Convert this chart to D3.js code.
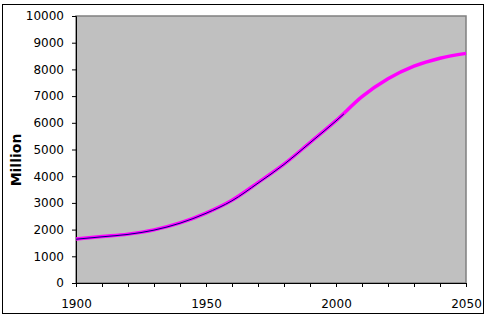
<!DOCTYPE html>
<html>
<head>
<meta charset="utf-8">
<script src="https://cdn.jsdelivr.net/npm/d3@7"></script>
<style>
  html, body { margin: 0; padding: 0; background: #fff; }
  svg { display: block; }
  text { font-family: "DejaVu Sans", Verdana, sans-serif; }
</style>
</head>
<body>
<svg id="chart" width="487" height="318"></svg>
<script>
// Data (millions)
const projYears  = [1900, 1910, 1920, 1930, 1940, 1950, 1960, 1970, 1980, 1990, 2000, 2010, 2020, 2030, 2040, 2050];
const projValues = [1650, 1740, 1830, 1990, 2250, 2620, 3100, 3760, 4450, 5260, 6080, 6980, 7650, 8120, 8420, 8600];
const histYears  = [1900, 1910, 1920, 1930, 1940, 1950, 1960, 1970, 1980, 1990, 2000, 2003];
const histValues = [1640, 1730, 1820, 1980, 2240, 2610, 3080, 3740, 4440, 5250, 6070, 6330];
const yTicks = [0, 1000, 2000, 3000, 4000, 5000, 6000, 7000, 8000, 9000, 10000];
const xLabelTicks = [1900, 1950, 2000, 2050];
const xMinorTicks = d3.range(1900, 2051, 10);
const yTitle = "Million";

(function () {
const svg = d3.select("#chart");
const mLeft = 76, mRight = 466, mTop = 16, mBottom = 283;
const fontFam = "'DejaVu Sans', Verdana, sans-serif";

const x = d3.scaleLinear().domain([1900, 2050]).range([mLeft, mRight]);
const y = d3.scaleLinear().domain([0, 10000]).range([mBottom, mTop]);

// outer frame
svg.append("rect").attr("x", 2.5).attr("y", 4.5).attr("width", 481).attr("height", 309)
  .attr("fill", "#fff").attr("stroke", "#000").attr("stroke-width", 1);

// plot area
svg.append("rect").attr("x", mLeft).attr("y", mTop).attr("width", mRight - mLeft).attr("height", mBottom - mTop)
  .attr("fill", "#c0c0c0").attr("stroke", "#808080").attr("stroke-width", 1.5);

// axes
const yAxis = d3.axisLeft(y).tickValues(yTicks).tickSize(4).tickPadding(8).tickFormat(d3.format("d"));
const gy = svg.append("g").attr("transform", `translate(${mLeft},0)`).call(yAxis);
gy.select(".domain").attr("stroke", "#000");
gy.selectAll(".tick line").attr("stroke", "#000");
gy.selectAll("text").attr("font-size", 12).attr("fill", "#000").attr("font-family", fontFam);

const xAxis = d3.axisBottom(x).tickValues(xMinorTicks).tickSize(4).tickPadding(12)
  .tickFormat(d => xLabelTicks.includes(d) ? String(d) : "");
const gx = svg.append("g").attr("transform", `translate(0,${mBottom})`).call(xAxis);
gx.select(".domain").attr("stroke", "#000");
gx.selectAll(".tick line").attr("stroke", "#000");
gx.selectAll("text").attr("font-size", 12).attr("fill", "#000").attr("font-family", fontFam);

// y title
svg.append("text").attr("transform", "translate(21,160) rotate(-90)")
  .attr("text-anchor", "middle").attr("font-size", 14).attr("font-weight", "bold")
  .attr("font-family", fontFam)
  .text(yTitle);

// lines
const line = d3.line().x(d => x(d[0])).y(d => y(d[1])).curve(d3.curveMonotoneX);

svg.append("path").datum(projYears.map((yr, i) => [yr, projValues[i]]))
  .attr("d", line).attr("fill", "none").attr("stroke", "#ff00ff").attr("stroke-width", 3.5)
  .attr("stroke-linejoin", "round");

svg.append("path").datum(histYears.map((yr, i) => [yr, histValues[i]]))
  .attr("d", line).attr("fill", "none").attr("stroke", "#000080").attr("stroke-width", 1);
})();
</script>
</body>
</html>
